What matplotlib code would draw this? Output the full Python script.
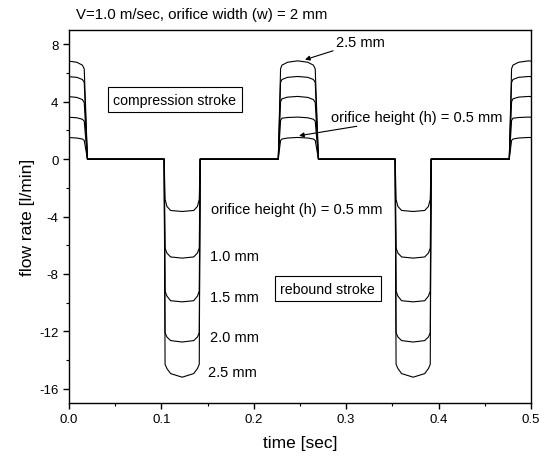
import numpy as np
import matplotlib
matplotlib.use('Agg')
import matplotlib.pyplot as plt
from matplotlib.ticker import MultipleLocator

plt.rcParams['font.family'] = ['Liberation Sans', 'DejaVu Sans']
plt.rcParams['axes.unicode_minus'] = False

# pulse start times [sec]
comp_starts = [-0.0235, 0.2265, 0.4765]
reb_starts = [0.103, 0.353]

# compression pulse shape (time from pulse start) and flow rate per orifice height
comp_t = [0.000, 0.0025, 0.004, 0.010, 0.021, 0.032, 0.038, 0.040, 0.0435]
comp_05 = [0, 1.30, 1.40, 1.47, 1.51, 1.47, 1.40, 1.30, 0]
comp_10 = [0, 2.70, 2.85, 2.90, 2.93, 2.88, 2.78, 2.65, 0]
comp_15 = [0, 4.00, 4.20, 4.32, 4.37, 4.30, 4.15, 3.95, 0]
comp_20 = [0, 5.35, 5.55, 5.70, 5.76, 5.70, 5.55, 5.35, 0]
comp_25 = [0, 6.30, 6.55, 6.75, 6.85, 6.75, 6.55, 6.30, 0]

# rebound pulse shape
reb_t = [0.000, 0.001, 0.003, 0.007, 0.0195, 0.032, 0.036, 0.038, 0.039]
reb_05 = [0, -2.8, -3.30, -3.58, -3.65, -3.58, -3.30, -2.8, 0]
reb_10 = [0, -6.2, -6.55, -6.82, -6.90, -6.82, -6.55, -6.2, 0]
reb_15 = [0, -9.2, -9.55, -9.87, -9.95, -9.87, -9.55, -9.2, 0]
reb_20 = [0, -12.1, -12.40, -12.65, -12.75, -12.65, -12.40, -12.1, 0]
reb_25 = [0, -14.3, -14.60, -14.95, -15.20, -14.95, -14.60, -14.3, 0]

comp_curves = [comp_05, comp_10, comp_15, comp_20, comp_25]
reb_curves = [reb_05, reb_10, reb_15, reb_20, reb_25]


def series(comp_q, reb_q):
    segs = [(s, comp_t, comp_q) for s in comp_starts] + [(s, reb_t, reb_q) for s in reb_starts]
    segs.sort(key=lambda a: a[0])
    t = np.concatenate([s + np.array(tt) for s, tt, _ in segs])
    q = np.concatenate([np.array(qq, dtype=float) for _, _, qq in segs])
    return t, q


fig = plt.figure(figsize=(5.47, 4.64), dpi=100)
ax = fig.add_axes([0.1261, 0.1293, 0.8446, 0.8039])

for cq, rq in zip(comp_curves, reb_curves):
    t, q = series(cq, rq)
    ax.plot(t, q, color='black', lw=0.8)

ax.set_xlim(0, 0.5)
ax.set_ylim(-17, 9)
ax.xaxis.set_major_locator(MultipleLocator(0.1))
ax.xaxis.set_minor_locator(MultipleLocator(0.05))
ax.yaxis.set_major_locator(MultipleLocator(4))
ax.yaxis.set_minor_locator(MultipleLocator(2))
ax.xaxis.set_major_formatter(plt.FormatStrFormatter('%.1f'))
ax.tick_params(which='major', direction='out', length=4, width=1, labelsize=9.5, top=False, right=False)
ax.tick_params(which='minor', direction='out', length=2.5, width=0.8, top=False, right=False)
for sp in ax.spines.values():
    sp.set_linewidth(1.0)

ax.set_xlabel('time [sec]', fontsize=12.5, labelpad=7)
ax.set_ylabel('flow rate [l/min]', fontsize=12.5, labelpad=3)

fig.text(0.139, 0.968, 'V=1.0 m/sec, orifice width (w) = 2 mm', fontsize=10.8, va='center', ha='left')

box = dict(boxstyle='square,pad=0.4', fc='white', ec='black', lw=0.8)
ax.text(0.1144, 4.14, 'compression stroke', fontsize=10.2, ha='center', va='center', bbox=box)
ax.text(0.280, -9.02, 'rebound stroke', fontsize=10.2, ha='center', va='center', bbox=box)

reb_labels = ['orifice height (h) = 0.5 mm', '1.0 mm', '1.5 mm', '2.0 mm', '2.5 mm']
reb_label_y = [-3.49, -6.78, -9.59, -12.38, -14.82]
reb_label_x = [0.1542, 0.1524, 0.1524, 0.1524, 0.1506]
for s, x, y in zip(reb_labels, reb_label_x, reb_label_y):
    ax.text(x, y, s, fontsize=10.5, ha='left', va='center')

arw = dict(arrowstyle='-|>', color='black', lw=0.8, mutation_scale=7, shrinkA=0, shrinkB=0)
ax.annotate('2.5 mm', xy=(0.2554, 6.93), xytext=(0.2888, 8.15), fontsize=10.5,
            ha='left', va='center', arrowprops=arw)
ax.annotate('orifice height (h) = 0.5 mm', xy=(0.249, 1.63), xytext=(0.2833, 2.97), fontsize=10.5,
            ha='left', va='center', arrowprops=arw)

fig.savefig('out.png', dpi=100)
